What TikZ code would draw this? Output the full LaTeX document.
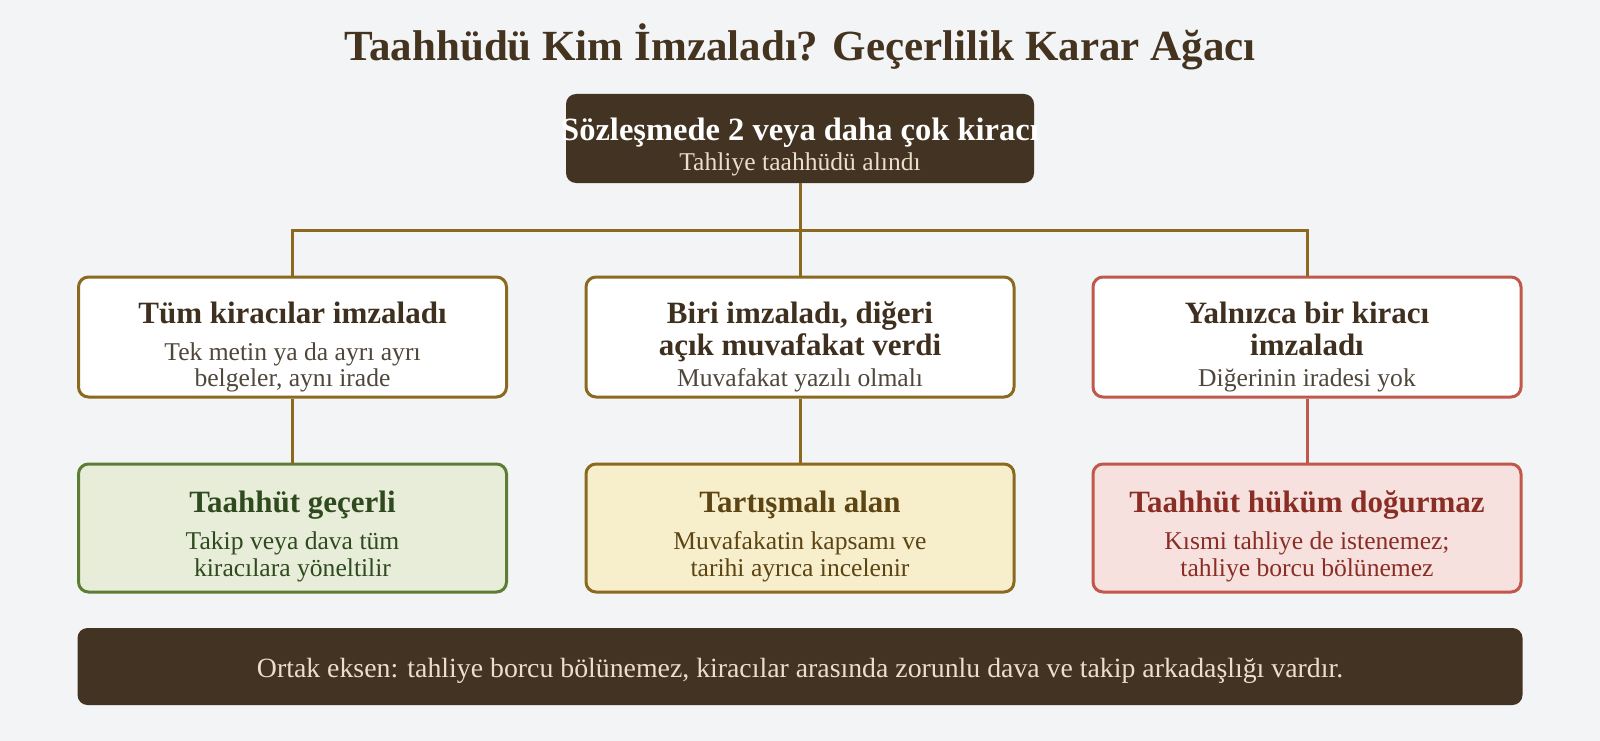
\documentclass[tikz,border=0pt]{standalone}
\usepackage{fontspec}
\setmainfont{Liberation Serif}
\definecolor{bgc}{HTML}{F3F4F6}
\definecolor{darkbr}{HTML}{433322}
\definecolor{titlec}{HTML}{44331F}
\definecolor{gold}{HTML}{8B6A1F}
\definecolor{redb}{HTML}{C0584C}
\definecolor{greenb}{HTML}{5E7D34}
\definecolor{greenf}{HTML}{E8EDD9}
\definecolor{greent}{HTML}{2E4A1E}
\definecolor{yellf}{HTML}{F7EECC}
\definecolor{yellt}{HTML}{5C4413}
\definecolor{pinkf}{HTML}{F7E1DF}
\definecolor{pinkt}{HTML}{8A2E25}
\definecolor{boxt}{HTML}{3F2F1E}
\definecolor{subt}{HTML}{4F463C}
\definecolor{cream}{HTML}{EADFC9}
\tikzset{
  box/.style={draw, line width=3pt, rounded corners=10pt, minimum width=428pt, inner sep=0pt},
  midbox/.style={box, fill=white, minimum height=120pt},
  resbox/.style={box, minimum height=128pt},
  darkbox/.style={fill=darkbr, rounded corners=10pt, inner sep=0pt},
  conn/.style={line width=3pt, draw=gold},
  connred/.style={line width=3pt, draw=redb},
  ttl/.style={anchor=base, font=\fontsize{31}{37}\selectfont\bfseries, inner sep=0pt},
  sub/.style={anchor=base, font=\fontsize{25.6}{31}\selectfont, inner sep=0pt},
}
\begin{document}
\begin{tikzpicture}[x=1pt,y=-1pt]
\useasboundingbox (0,0) rectangle (1600,741);
\fill[bgc] (0,0) rectangle (1600,741);

% title
\node[anchor=base, inner sep=0pt, text=titlec, font=\fontsize{43}{50}\selectfont\bfseries] (title) at (800,61) {Taahhüdü Kim İmzaladı? Geçerlilik Karar Ağacı};

% root
\node[darkbox, minimum width=468pt, minimum height=89pt] (root) at (800,138.5) {};
\node[ttl, text=white, font=\fontsize{32.5}{38}\selectfont\bfseries] (rootT) at (800,140) {Sözleşmede 2 veya daha çok kiracı};
\node[sub, text=cream] (rootS) at (800,170) {Tahliye taahhüdü alındı};

% middle row
\node[midbox, draw=gold] (b1) at (292.5,337) {};
\node[midbox, draw=gold] (b2) at (800,337) {};
\node[midbox, draw=redb] (b3) at (1307,337) {};

\node[ttl, text=boxt] (b1T) at (292.5,323) {Tüm kiracılar imzaladı};
\node[sub, text=subt] (b1S1) at (292.5,360) {Tek metin ya da ayrı ayrı};
\node[sub, text=subt] (b1S2) at (292.5,386) {belgeler, aynı irade};

\node[ttl, text=boxt] (b2T1) at (800,323) {Biri imzaladı, diğeri};
\node[ttl, text=boxt] (b2T2) at (800,355) {açık muvafakat verdi};
\node[sub, text=subt] (b2S) at (800,386) {Muvafakat yazılı olmalı};

\node[ttl, text=boxt] (b3T1) at (1307,323) {Yalnızca bir kiracı};
\node[ttl, text=boxt] (b3T2) at (1307,355) {imzaladı};
\node[sub, text=subt] (b3S) at (1307,386) {Diğerinin iradesi yok};

% result row
\node[resbox, draw=greenb, fill=greenf] (c1) at (292.5,528) {};
\node[resbox, draw=gold, fill=yellf] (c2) at (800,528) {};
\node[resbox, draw=redb, fill=pinkf] (c3) at (1307,528) {};

\node[ttl, text=greent] (c1T) at (292.5,512) {Taahhüt geçerli};
\node[sub, text=greent] (c1S1) at (292.5,549) {Takip veya dava tüm};
\node[sub, text=greent] (c1S2) at (292.5,576) {kiracılara yöneltilir};

\node[ttl, text=yellt] (c2T) at (800,512) {Tartışmalı alan};
\node[sub, text=yellt] (c2S1) at (800,549) {Muvafakatin kapsamı ve};
\node[sub, text=yellt] (c2S2) at (800,576) {tarihi ayrıca incelenir};

\node[ttl, text=pinkt] (c3T) at (1307,512) {Taahhüt hüküm doğurmaz};
\node[sub, text=pinkt] (c3S1) at (1307,549) {Kısmi tahliye de istenemez;};
\node[sub, text=pinkt] (c3S2) at (1307,576) {tahliye borcu bölünemez};

% connectors
\coordinate (jc) at (800,230);
\coordinate (jl) at (292.5,230);
\coordinate (jr) at (1307,230);
\draw[conn] (root.south) -- (jc);
\draw[conn, line cap=rect] (jl) -- (jr);
\draw[conn] (jl) -- (b1.north);
\draw[conn] (jc) -- (b2.north);
\draw[conn] (jr) -- (b3.north);
\draw[conn] (b1.south) -- (c1.north);
\draw[conn] (b2.south) -- (c2.north);
\draw[connred] (b3.south) -- (c3.north);

% footer
\node[darkbox, minimum width=1445pt, minimum height=77pt] (foot) at (800,666.5) {};
\node[sub, text=cream, font=\fontsize{27.8}{33}\selectfont] (footT) at (800,677) {Ortak eksen: tahliye borcu bölünemez, kiracılar arasında zorunlu dava ve takip arkadaşlığı vardır.};
\end{tikzpicture}
\end{document}
